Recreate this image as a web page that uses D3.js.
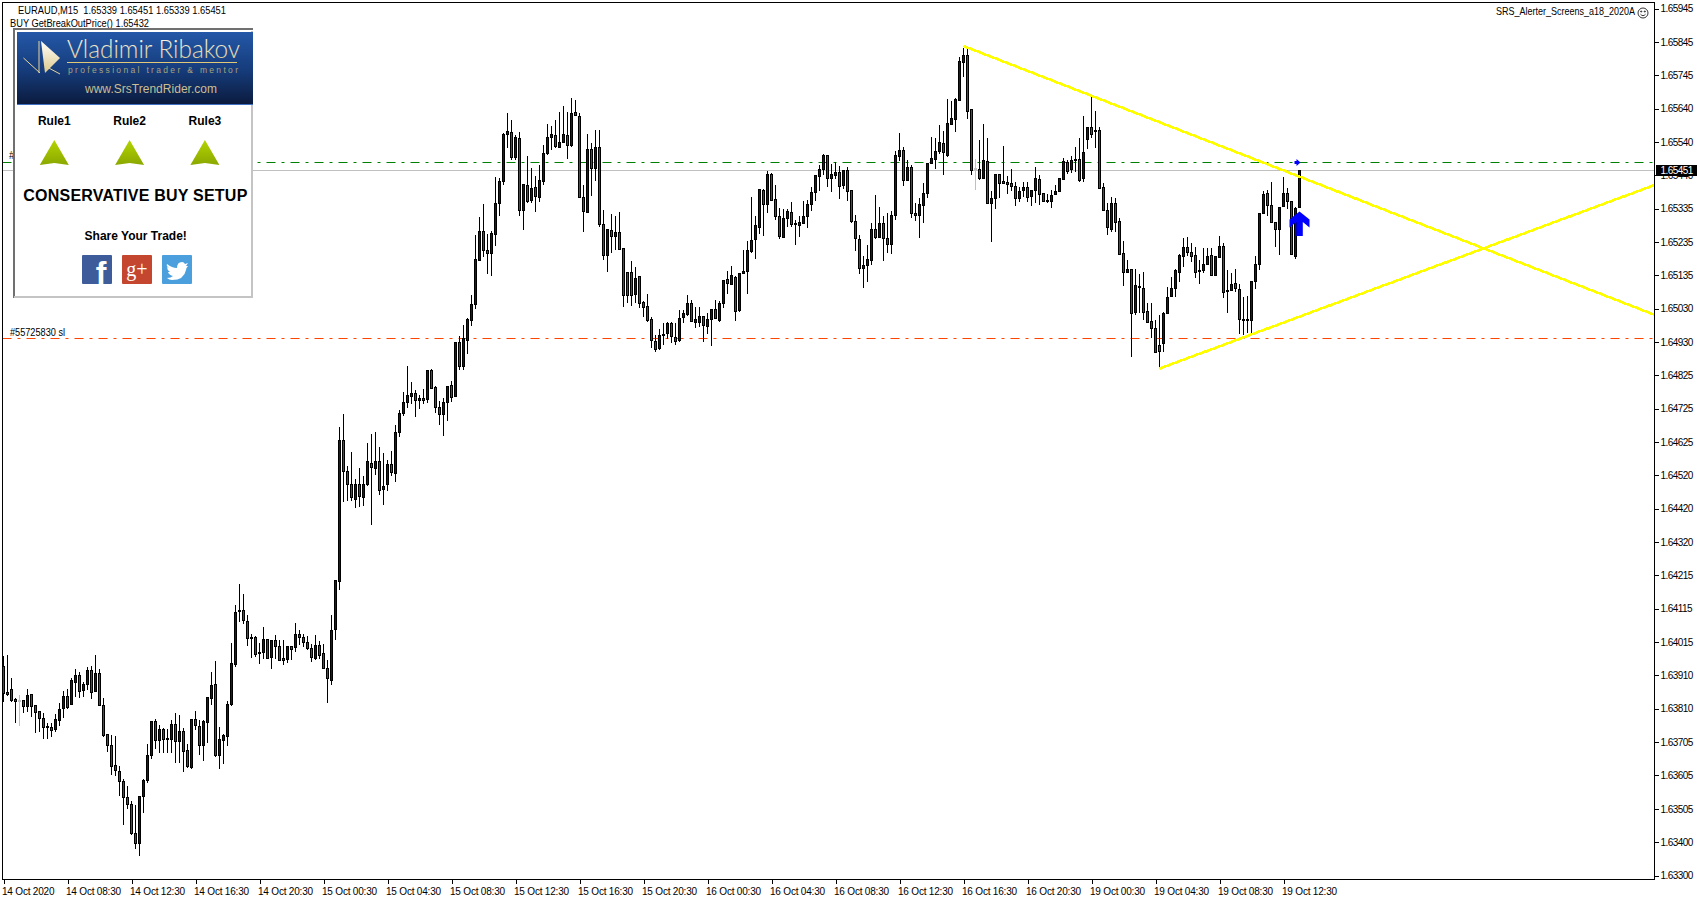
<!DOCTYPE html>
<html>
<head>
<meta charset="utf-8">
<title>EURAUD,M15</title>
<script src="https://cdn.jsdelivr.net/npm/d3@7"></script>
<style>
  html, body { margin: 0; padding: 0; background: #fff; overflow: hidden; }
  svg { display: block; }
  text { font-family: "Liberation Sans", Arial, sans-serif; }
</style>
</head>
<body>
<svg id="chart" width="1700" height="900"></svg>
<script>
// candle values in points (163937 = 1.63937), one line = 25 bars
const opens = [
  163937,163859,163867,163835,163833,163832,163815,163853,163817,163799,163779,163755,163752,163743,163772,163806,163844,163821,163890,163911,163863,163882,163926,163863,163917,
  163819,163730,163697,163634,163617,163587,163538,163517,163428,163397,163540,163591,163665,163770,163712,163745,163716,163714,163761,163708,163740,163681,163627,163774,163755,
  163696,163766,163839,163881,163664,163711,163723,163820,163942,164103,164108,164074,164026,164027,163980,163979,164019,163964,164016,163998,163962,163959,163999,163994,164035,
  164026,164010,163992,163962,164001,163977,163931,163896,164048,164196,164627,164533,164491,164446,164491,164452,164492,164557,164541,164563,164475,164492,164552,164525,164650,
  164708,164744,164760,164770,164748,164755,164751,164840,164788,164727,164705,164742,164793,164760,164926,164852,164934,164992,165041,165176,165264,165206,165197,165255,165352,
  165419,165560,165567,165490,165549,165328,165405,165358,165399,165368,165419,165502,165551,165558,165521,165538,165558,165527,165628,165616,165369,165322,165515,165456,165521,
  165286,165191,165266,165249,165262,165213,165140,165140,165072,165128,165049,165036,164996,164930,164907,164948,164950,164982,164941,164931,165001,165012,165045,164986,164987,
  165005,164977,164998,165027,164994,165044,165118,165102,165125,165023,165137,165142,165203,165239,165276,165388,165346,165439,165362,165310,165246,165303,165323,165288,165285,
  165291,165310,165348,165383,165432,165452,165497,165427,165437,165445,165404,165451,165390,165295,165240,165151,165160,165177,165271,165246,165289,165243,165227,165313,165493,
  165512,165421,165460,165318,165313,165343,165380,165471,165486,165508,165533,165496,165593,165608,165666,165782,165800,165635,165455,165454,165427,165478,165349,165365,165437,
  165418,165415,165411,165402,165367,165389,165399,165371,165389,165424,165379,165359,165358,165377,165386,165425,165475,165456,165480,165484,165428,165544,165582,165573,165573,
  165399,165327,165272,165350,165296,165198,165139,165149,165017,165095,165091,165021,164990,164969,164915,164923,165014,165066,165088,165139,165186,165214,165201,165192,165146,
  165145,165163,165190,165130,165186,165217,165085,165084,165105,165088,164996,164996,164993,165111,165163,165319,165379,165342,165293,165270,165339,165381,165357,165190,165339
];
const highs = [
  163969,163972,163903,163840,163850,163835,163867,163853,163817,163802,163794,163764,163764,163792,163825,163862,163867,163901,163930,163919,163891,163934,163939,163972,163930,
  163840,163730,163728,163725,163634,163593,163573,163526,163514,163541,163593,163701,163768,163777,163759,163749,163745,163774,163796,163789,163749,163701,163776,163801,163774,
  163774,163845,163921,163954,163751,163731,163832,164008,164126,164188,164158,164093,164035,164030,164009,164057,164019,164016,164032,164017,164017,164001,164001,164069,164048,
  164035,164030,164005,164033,164015,164005,163956,164094,164201,164668,164707,164549,164591,164510,164543,164518,164619,164646,164653,164607,164588,164567,164594,164673,164719,
  164773,164854,164805,164780,164765,164783,164840,164844,164794,164746,164755,164792,164808,164926,164945,164979,164999,165070,165253,165307,165348,165256,165266,165430,165427,
  165564,165626,165604,165559,165568,165408,165495,165457,165434,165467,165528,165592,165586,165604,165628,165647,165628,165671,165665,165625,165405,165562,165535,165574,165574,
  165330,165269,165318,165312,165324,165213,165140,165173,165157,165128,165053,165074,165002,164949,164967,164984,164989,164989,164984,165025,165025,165071,165055,165035,165035,
  165005,165017,165027,165055,165053,165116,165144,165159,165129,165137,165208,165236,165368,165310,165391,165394,165449,165442,165406,165335,165333,165333,165353,165299,165310,
  165357,165360,165399,165437,165467,165501,165497,165470,165475,165464,165451,165461,165391,165314,165254,165190,165223,165291,165375,165340,165312,165321,165328,165510,165565,
  165522,165482,165467,165350,165365,165411,165474,165552,165548,165589,165572,165667,165662,165671,165795,165823,165828,165635,165484,165543,165592,165548,165387,165437,165440,
  165525,165432,165454,165416,165401,165416,165416,165391,165461,165435,165383,165379,165391,165406,165426,165488,165482,165495,165521,165550,165617,165582,165676,165632,165582,
  165413,165352,165369,165366,165305,165235,165177,165149,165149,165135,165141,165047,165045,164994,165010,165020,165094,165125,165149,165196,165243,165247,165228,165218,165177,
  165213,165215,165213,165187,165249,165228,165147,165137,165149,165103,165063,165066,165113,165190,165320,165388,165391,165415,165293,165340,165430,165396,165357,165340,165451
];
const lows = [
  163830,163847,163829,163766,163754,163796,163799,163784,163735,163738,163715,163715,163721,163738,163754,163779,163807,163820,163843,163840,163845,163865,163837,163860,163818,
  163723,163677,163606,163603,163542,163454,163503,163423,163380,163360,163491,163583,163654,163684,163672,163672,163672,163672,163644,163642,163616,163626,163625,163743,163667,
  163650,163703,163820,163662,163625,163640,163695,163817,163937,164073,164066,163999,163964,163967,163944,163959,163962,163930,163960,163954,163941,163947,163956,163982,164002,
  163995,163987,163950,163956,163960,163930,163825,163881,164018,164170,164440,164443,164443,164422,164425,164428,164488,164370,164521,164460,164430,164473,164519,164501,164638,
  164702,164726,164738,164699,164722,164738,164742,164783,164711,164675,164641,164687,164744,164758,164841,164843,164890,164976,165028,165176,165187,165134,165129,165220,165310,
  165406,165518,165482,165482,165312,165269,165350,165350,165325,165355,165406,165498,165513,165518,165518,165538,165485,165522,165616,165368,165264,165322,165371,165419,165277,
  165177,165142,165198,165208,165208,165035,165047,165037,165045,165030,165004,164987,164910,164895,164903,164918,164935,164925,164918,164928,164984,165007,164987,164971,164972,
  164928,164951,164916,164996,164989,165032,165074,165102,164992,165020,165134,165072,165200,165179,165257,165251,165322,165361,165299,165241,165243,165279,165279,165223,165248,
  165291,165275,165328,165358,165387,165437,165401,165386,165424,165363,165395,165357,165289,165206,165136,165093,165111,165162,165242,165246,165175,165200,165195,165299,165480,
  165404,165418,165306,165296,165245,165291,165367,165469,165454,165501,165437,165492,165589,165569,165665,165737,165608,165435,165391,165421,165424,165349,165233,165333,165367,
  165411,165380,165389,165343,165355,165368,165355,165343,165350,165345,165353,165352,165337,165375,165384,165423,165439,165442,165447,165416,165416,165517,165548,165518,165394,
  165327,165254,165264,165264,165193,165099,165139,164882,165010,165017,164994,164984,164938,164895,164846,164895,165013,165063,165063,165110,165157,165188,165172,165121,165105,
  165139,165162,165127,165127,165183,165060,165017,165083,165081,164951,164949,164954,164951,165089,165147,165318,165310,165289,165218,165191,165339,165334,165193,165181,165339
];
const closes = [
  163855,163853,163833,163830,163831,163815,163850,163815,163796,163778,163751,163751,163743,163774,163807,163844,163811,163893,163911,163863,163881,163926,163860,163917,163819,
  163728,163696,163632,163619,163586,163538,163516,163427,163397,163541,163590,163667,163768,163712,163745,163713,163713,163761,163708,163739,163680,163631,163774,163756,163696,
  163768,163841,163878,163664,163713,163725,163822,163945,164102,164107,164076,164022,164022,163975,163977,164019,163962,164016,163997,163956,163957,163999,163990,164035,164025,
  164012,163991,163964,164001,163969,163930,163899,164048,164198,164627,164531,164492,164452,164491,164455,164493,164563,164544,164563,164473,164485,164552,164528,164651,164709,
  164743,164764,164770,164748,164755,164748,164840,164786,164726,164705,164743,164792,164757,164926,164852,164938,164997,165042,165179,165264,165206,165197,165257,165350,165418,
  165561,165568,165490,165552,165328,165408,165355,165396,165371,165420,165503,165552,165561,165523,165536,165561,165526,165625,165618,165368,165325,165515,165456,165521,165285,
  165191,165269,165249,165262,165211,165069,165069,165069,165121,165047,165035,164993,164931,164907,164948,164951,164982,164941,164928,164999,165013,165045,164989,164996,165005,
  164977,164997,165027,164999,165046,165115,165105,165129,165020,165137,165143,165207,165237,165281,165391,165346,165437,165361,165310,165248,165304,165324,165285,165285,165293,
  165311,165348,165384,165434,165454,165495,165428,165439,165445,165401,165451,165388,165294,165242,165151,165161,165179,165271,165248,165289,165243,165225,165314,165497,165512,
  165419,165460,165319,165313,165347,165381,165472,165487,165509,165536,165505,165594,165610,165668,165784,165802,165630,165448,165452,165428,165481,165349,165365,165437,165410,
  165413,165410,165401,165365,165387,165399,165367,165390,165426,165378,165355,165355,165375,165387,165426,165479,165449,165482,165484,165419,165506,165582,165560,165569,165396,
  165328,165274,165350,165291,165196,165139,165149,165014,165100,165091,165019,164988,164968,164896,164896,165015,165063,165091,165144,165190,165214,165200,165190,165139,165143,
  165164,165188,165130,165187,165219,165078,165081,165103,165091,164995,164993,164994,165112,165164,165320,165376,165343,165290,165271,165338,165379,165356,165194,165335,165451
];
const greyBars = [4, 243]; // two candles are drawn in grey in the original

const priceLabels = ["1.65945","1.65845","1.65745","1.65640","1.65540","1.65440","1.65335","1.65235","1.65135",
  "1.65030","1.64930","1.64825","1.64725","1.64625","1.64520","1.64420","1.64320","1.64215","1.64115","1.64015",
  "1.63910","1.63810","1.63705","1.63605","1.63505","1.63400","1.63300"];
const timeBars = [0,16,32,48,64,80,96,112,128,144,160,176,192,208,224,240,256,272,288,304,320];
const timeLabels = ["14 Oct 2020","14 Oct 08:30","14 Oct 12:30","14 Oct 16:30","14 Oct 20:30","15 Oct 00:30",
  "15 Oct 04:30","15 Oct 08:30","15 Oct 12:30","15 Oct 16:30","15 Oct 20:30","16 Oct 00:30","16 Oct 04:30",
  "16 Oct 08:30","16 Oct 12:30","16 Oct 16:30","16 Oct 20:30","19 Oct 00:30","19 Oct 04:30","19 Oct 08:30","19 Oct 12:30"];

const bidPrice = 165451;
const buyLevel = 165475;
const stopLevel = 164938;
const trendBars = [240, 412.75, 289, 412.75]; // start and end bar of the two yellow lines
const trendPrices = [165830, 165010, 164846, 165406];
const arrowBar = 324;
const arrowPrice = 165325;

const ruleNames = ["Rule1", "Rule2", "Rule3"];

const svg = d3.select("#chart");
const left = 2.5, right = 1654.5, top_ = 2.5, bottom = 879.5;

// bars sit 4px apart, prices 3.05 points per pixel
const x = d3.scaleLinear().domain([0, 412.75]).range([3.5, 1654.5]);
const y = d3.scaleLinear().domain([163300, 165945]).range([875.3, 8.33]);
const yAxisScale = d3.scalePoint().domain(priceLabels).range([8.5, 875.5]);
const crisp = (v) => Math.round(v - 0.5) + 0.5;

const candles = opens.map((o, i) => ({
  i: i, open: o, high: d3.max([highs[i], o, closes[i]]), low: d3.min([lows[i], o, closes[i]]), close: closes[i],
}));

// horizontal levels go behind the candles
const levels = svg.append("g");
levels.append("line")
  .attr("x1", left).attr("x2", right)
  .attr("y1", crisp(y(bidPrice))).attr("y2", crisp(y(bidPrice)))
  .attr("stroke", "#c0c0c0");
levels.append("line")
  .attr("x1", left).attr("x2", right)
  .attr("y1", crisp(y(buyLevel))).attr("y2", crisp(y(buyLevel)))
  .attr("stroke", "#008000").attr("stroke-dasharray", "9,6,3,6");
levels.append("line")
  .attr("x1", left).attr("x2", right)
  .attr("y1", crisp(y(stopLevel))).attr("y2", crisp(y(stopLevel)))
  .attr("stroke", "#ff4500").attr("stroke-dasharray", "9,6,3,6");

// candles
const bars = svg.append("g").attr("shape-rendering", "crispEdges")
  .selectAll("g").data(candles).enter().append("g");

bars.append("line")
  .attr("x1", (d) => x(d.i)).attr("x2", (d) => x(d.i))
  .attr("y1", (d) => Math.round(y(d.high))).attr("y2", (d) => Math.round(y(d.low)))
  .attr("stroke", (d) => (greyBars.includes(d.i) ? "#c0c0c0" : "#000"));

bars.append("rect")
  .attr("x", (d) => x(d.i) - 1)
  .attr("width", 2)
  .attr("y", (d) => crisp(y(d3.max([d.open, d.close]))))
  .attr("height", (d) => Math.max(1, Math.round(Math.abs(y(d.open) - y(d.close)))))
  .attr("fill", (d) => (d.close > d.open ? "#0000ff" : "#ff0000"))
  .attr("stroke", (d) => (greyBars.includes(d.i) ? "#c0c0c0" : "#000"));

// yellow trend lines
[0, 2].forEach((k) => {
  svg.append("line")
    .attr("x1", x(trendBars[k])).attr("y1", y(trendPrices[k]))
    .attr("x2", x(trendBars[k + 1])).attr("y2", y(trendPrices[k + 1]))
    .attr("stroke", "#ffff00").attr("stroke-width", 2.6).attr("shape-rendering", "crispEdges");
});

// blue arrows on the last bar
svg.append("path")
  .attr("transform", "translate(" + x(arrowBar) + "," + y(arrowPrice) + ")")
  .attr("d", "M0,0L10,8L10,16L3.3,10.5L3.3,24.5L-3.2,24.5L-3.2,10.5L-10,16L-10,8Z")
  .attr("fill", "#0000ff");
svg.append("path")
  .attr("transform", "translate(" + (x(arrowBar) - 3) + "," + crisp(y(buyLevel)) + ")")
  .attr("d", "M-2,-1.5L0,-1.5L0,-3.5L4,0L0,3.5L0,1.5L-2,1.5Z")
  .attr("fill", "#0000ff");

// frame and axes
svg.append("rect")
  .attr("x", left).attr("y", top_).attr("width", right - left).attr("height", bottom - top_)
  .attr("fill", "none").attr("stroke", "#000");

const yAxis = svg.append("g")
  .attr("transform", "translate(" + right + ",0)")
  .call(d3.axisRight(yAxisScale).tickSize(4).tickSizeOuter(0));
yAxis.select(".domain").remove();
yAxis.selectAll("line").attr("shape-rendering", "crispEdges");
yAxis.selectAll("text")
  .attr("x", 6).attr("font-size", "10px").attr("letter-spacing", "-0.55px").attr("fill", "#000")
  .style("font-family", '"Liberation Sans", Arial, sans-serif');

const xAxis = svg.append("g")
  .attr("transform", "translate(0," + bottom + ")")
  .call(d3.axisBottom(x).tickValues(timeBars).tickSize(4).tickFormat((d, i) => timeLabels[i]));
xAxis.select(".domain").remove();
xAxis.selectAll("line").attr("shape-rendering", "crispEdges");
xAxis.selectAll("text")
  .attr("text-anchor", "start").attr("x", -2).attr("y", 8).attr("dy", "0.71em")
  .attr("font-size", "10px").attr("letter-spacing", "-0.2px").attr("fill", "#000")
  .style("font-family", '"Liberation Sans", Arial, sans-serif');

// bid label over the axis
svg.append("rect")
  .attr("x", 1656).attr("y", crisp(y(bidPrice)) - 5.5).attr("width", 41).attr("height", 11).attr("fill", "#000");
svg.append("text")
  .attr("x", 1660.5).attr("y", crisp(y(bidPrice)) + 3.5)
  .attr("font-size", "10px").attr("letter-spacing", "-0.55px").attr("fill", "#fff")
  .text("1.65451");

// header texts
svg.append("text").attr("x", 18).attr("y", 13.5).attr("font-size", "10.5px")
  .attr("textLength", 208).attr("lengthAdjust", "spacingAndGlyphs")
  .text("EURAUD,M15  1.65339 1.65451 1.65339 1.65451").attr("xml:space", "preserve");
svg.append("text").attr("x", 10).attr("y", 26.5).attr("font-size", "10.5px")
  .attr("textLength", 139).attr("lengthAdjust", "spacingAndGlyphs")
  .text("BUY GetBreakOutPrice() 1.65432");
svg.append("text").attr("x", 1496).attr("y", 15).attr("font-size", "10.5px")
  .attr("textLength", 139).attr("lengthAdjust", "spacingAndGlyphs")
  .text("SRS_Alerter_Screens_a18_2020A");
svg.append("text").attr("x", 10).attr("y", 336).attr("font-size", "10px")
  .attr("textLength", 55).attr("lengthAdjust", "spacingAndGlyphs")
  .text("#55725830 sl");
svg.append("text").attr("x", 9).attr("y", 159).attr("font-size", "10px").text("#55725830");

// smiley
const smiley = svg.append("g").attr("transform", "translate(1643,13)")
  .attr("fill", "none").attr("stroke", "#333");
smiley.append("circle").attr("r", 5);
smiley.append("path").attr("d", "M-2.5,1.2Q0,4.2,2.5,1.2");
smiley.append("circle").attr("cx", -1.8).attr("cy", -1.5).attr("r", 0.6).attr("fill", "#333");
smiley.append("circle").attr("cx", 1.8).attr("cy", -1.5).attr("r", 0.6).attr("fill", "#333");

// rules panel
const defs = svg.append("defs");
const bannerGrad = defs.append("linearGradient").attr("id", "bannerGrad").attr("x2", 0).attr("y2", 1);
bannerGrad.append("stop").attr("offset", 0).attr("stop-color", "#2458a8");
bannerGrad.append("stop").attr("offset", 0.55).attr("stop-color", "#153a78");
bannerGrad.append("stop").attr("offset", 1).attr("stop-color", "#0b1a3c");
const goldGrad = defs.append("linearGradient").attr("id", "goldGrad").attr("x2", 0).attr("y2", 1);
goldGrad.append("stop").attr("offset", 0).attr("stop-color", "#ffffff");
goldGrad.append("stop").attr("offset", 1).attr("stop-color", "#dcc88a");
const greenGrad = defs.append("linearGradient").attr("id", "greenGrad").attr("x2", 0).attr("y2", 1);
greenGrad.append("stop").attr("offset", 0).attr("stop-color", "#b4d400");
greenGrad.append("stop").attr("offset", 1).attr("stop-color", "#8aa800");

const panel = svg.append("g");
panel.append("rect").attr("x", 13).attr("y", 28).attr("width", 240).attr("height", 270).attr("fill", "#fff");
panel.append("path").attr("d", "M253,29H14V298").attr("fill", "none").attr("stroke", "#707070").attr("stroke-width", 2);
panel.append("path").attr("d", "M252,31V297H14").attr("fill", "none").attr("stroke", "#c4c4c4").attr("stroke-width", 2);
panel.append("rect").attr("x", 17).attr("y", 32).attr("width", 236).attr("height", 73).attr("fill", "url(#bannerGrad)");
panel.append("rect").attr("x", 17).attr("y", 104).attr("width", 236).attr("height", 1).attr("fill", "#3f6fc0");

// logo mark
panel.append("path").attr("d", "M41,41L60,58L45,73Z").attr("fill", "url(#goldGrad)");
panel.append("path").attr("d", "M39,41V73M23.5,58L40,73M45,66L60,74").attr("fill", "none")
  .attr("stroke", "#e6d59a").attr("stroke-width", 1);
panel.append("text").attr("x", 67).attr("y", 58).attr("font-size", "25px").attr("fill", "url(#goldGrad)")
  .attr("textLength", 173).attr("lengthAdjust", "spacingAndGlyphs")
  .style("font-family", "Lato, Roboto, sans-serif").style("font-weight", 300).text("Vladimir Ribakov");
panel.append("rect").attr("x", 67).attr("y", 62).attr("width", 170).attr("height", 1).attr("fill", "#e0c878");
panel.append("text").attr("x", 68).attr("y", 73).attr("font-size", "8.5px").attr("fill", "#a9a27a")
  .attr("textLength", 170).text("professional trader & mentor");
panel.append("text").attr("x", 85).attr("y", 93).attr("font-size", "12px").attr("fill", "#c9bf95")
  .attr("textLength", 132).text("www.SrsTrendRider.com");

ruleNames.forEach((name, i) => {
  const cx = 54.3 + i * 75.3;
  panel.append("text").attr("x", cx).attr("y", 125).attr("text-anchor", "middle")
    .attr("font-size", "12px").attr("font-weight", "bold").text(name);
  panel.append("path").attr("transform", "translate(" + cx + ",140)")
    .attr("d", "M0,0L14.5,25L0,23L-14.5,25Z").attr("fill", "url(#greenGrad)");
});

panel.append("text").attr("x", 135.3).attr("y", 201).attr("text-anchor", "middle")
  .attr("font-size", "16px").attr("font-weight", "bold").attr("textLength", 224).text("CONSERVATIVE BUY SETUP");
panel.append("text").attr("x", 135.7).attr("y", 240).attr("text-anchor", "middle")
  .attr("font-size", "12px").attr("font-weight", "bold").text("Share Your Trade!");

// share buttons
panel.append("rect").attr("x", 82).attr("y", 255).attr("width", 30).attr("height", 29).attr("rx", 1).attr("fill", "#3e5c9a");
panel.append("text").attr("x", 101).attr("y", 284).attr("text-anchor", "middle").attr("font-size", "32px")
  .attr("font-weight", "bold").attr("fill", "#fff").text("f");
panel.append("rect").attr("x", 122).attr("y", 255).attr("width", 30).attr("height", 29).attr("rx", 1).attr("fill", "#c5462f");
panel.append("text").attr("x", 137).attr("y", 276).attr("text-anchor", "middle").attr("font-size", "20px")
  .attr("fill", "#fff").style("font-family", '"Liberation Serif", serif').text("g+");
panel.append("rect").attr("x", 162).attr("y", 255).attr("width", 30).attr("height", 29).attr("rx", 1).attr("fill", "#4a9fdc");
panel.append("path")
  .attr("d", "M167,264Q172,268 177,268Q177,262 182,262Q184,262 185,264L188,263L186,266L188,266Q186,268 186,270Q184,280 172,280Q169,280 167,278Q171,278 173,276Q169,275 168,272L170,272Q167,270 167,267L169,268Q166,266 167,264Z")
  .attr("fill", "#fff");
</script>
</body>
</html>
